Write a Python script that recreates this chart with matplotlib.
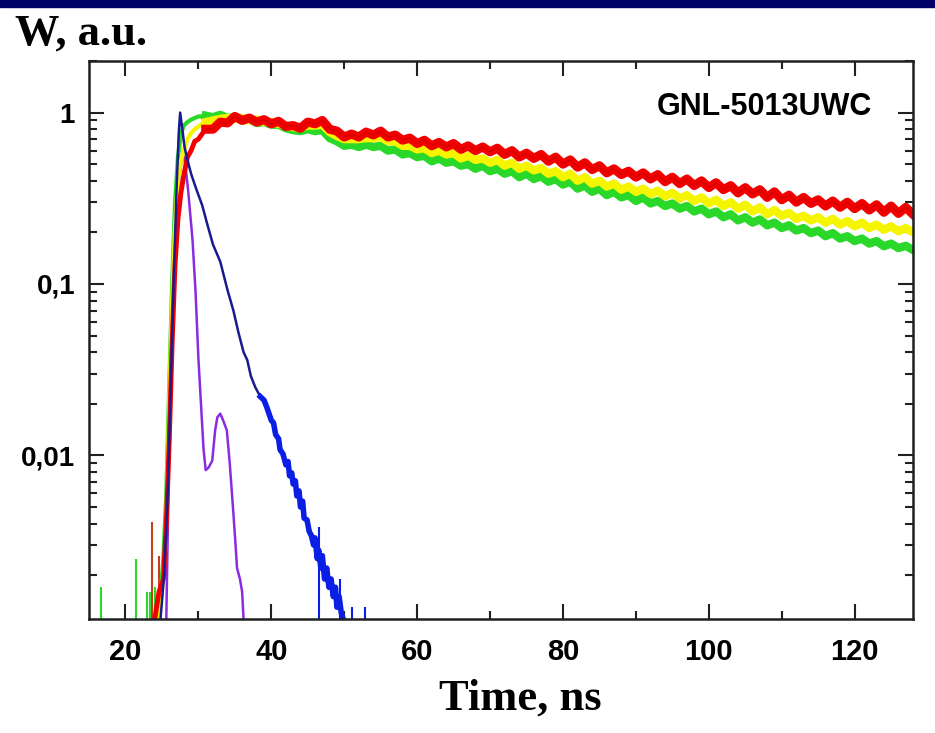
import matplotlib
matplotlib.use('Agg')
import matplotlib.pyplot as plt
from matplotlib.patches import Rectangle
from matplotlib.ticker import FixedLocator, NullFormatter, LogLocator

plt.rcParams['font.family'] = ['Liberation Sans', 'DejaVu Sans']
plt.rcParams['font.weight'] = 'bold'

# --- data ---
red_rise_t = [24.0, 24.6, 25.2, 25.6, 26.0, 26.4, 26.8, 27.2, 27.6, 28.0, 28.5, 29.0, 29.5, 30.0, 30.5]
red_rise_v = [0.0011, 0.0016, 0.0019, 0.004, 0.012, 0.045, 0.13, 0.24, 0.34, 0.43, 0.55, 0.6, 0.68, 0.7, 0.75]
yellow_rise_t = [24.5, 25.0, 25.5, 26.0, 26.4, 26.8, 27.2, 27.6, 28.0, 28.5, 29.0, 29.5, 30.0, 30.5]
yellow_rise_v = [0.0011, 0.0016, 0.003, 0.02, 0.08, 0.22, 0.4, 0.52, 0.6, 0.7, 0.76, 0.8, 0.83, 0.86]
green_rise_t = [24.4, 24.8, 25.2, 25.6, 26.0, 26.4, 26.8, 27.2, 27.6, 28.0, 28.5, 29.0, 29.5, 30.0, 30.5]
green_rise_v = [0.0011, 0.0015, 0.0025, 0.006, 0.025, 0.1, 0.3, 0.55, 0.75, 0.84, 0.88, 0.91, 0.93, 0.95, 0.95]

# tail sampled every 1 ns from 31 to 128 ns
tail_t = list(range(31, 129))
red_tail = [0.80, 0.80, 0.88, 0.87, 0.95, 0.90, 0.93, 0.88, 0.91, 0.86,
            0.89, 0.83, 0.84, 0.81, 0.88, 0.86, 0.90, 0.80, 0.78, 0.72,
            0.75, 0.72, 0.77, 0.74, 0.78, 0.72, 0.74, 0.69, 0.71, 0.66,
            0.69, 0.64, 0.67, 0.63, 0.66, 0.61, 0.64, 0.60, 0.63, 0.59,
            0.62, 0.57, 0.60, 0.55, 0.58, 0.54, 0.57, 0.52, 0.55, 0.50,
            0.53, 0.48, 0.51, 0.465, 0.49, 0.445, 0.47, 0.435, 0.455, 0.42,
            0.445, 0.41, 0.435, 0.395, 0.42, 0.385, 0.41, 0.375, 0.40, 0.365,
            0.39, 0.355, 0.375, 0.34, 0.365, 0.335, 0.355, 0.32, 0.345, 0.31,
            0.33, 0.30, 0.32, 0.295, 0.31, 0.285, 0.305, 0.28, 0.30, 0.275,
            0.295, 0.27, 0.29, 0.262, 0.285, 0.258, 0.28, 0.255]
yellow_tail = [0.88, 0.90, 0.92, 0.93, 0.92, 0.93, 0.90, 0.91, 0.88, 0.88,
               0.86, 0.84, 0.82, 0.82, 0.84, 0.84, 0.85, 0.77, 0.73, 0.70,
               0.70, 0.70, 0.71, 0.71, 0.72, 0.68, 0.68, 0.64, 0.64, 0.61,
               0.62, 0.58, 0.60, 0.57, 0.58, 0.54, 0.56, 0.53, 0.54, 0.51,
               0.53, 0.49, 0.51, 0.47, 0.49, 0.46, 0.475, 0.44, 0.455, 0.42,
               0.44, 0.40, 0.42, 0.385, 0.40, 0.37, 0.385, 0.355, 0.37, 0.345,
               0.36, 0.335, 0.35, 0.325, 0.34, 0.315, 0.33, 0.305, 0.32, 0.295,
               0.31, 0.285, 0.30, 0.275, 0.29, 0.265, 0.28, 0.255, 0.27, 0.25,
               0.26, 0.24, 0.25, 0.235, 0.245, 0.228, 0.24, 0.222, 0.233, 0.217,
               0.228, 0.212, 0.222, 0.207, 0.217, 0.203, 0.212, 0.20]
green_tail = [0.96, 0.94, 0.97, 0.93, 0.94, 0.90, 0.91, 0.87, 0.88, 0.85,
              0.85, 0.81, 0.79, 0.78, 0.80, 0.78, 0.79, 0.71, 0.68, 0.64,
              0.65, 0.63, 0.65, 0.63, 0.64, 0.60, 0.61, 0.57, 0.58, 0.55,
              0.56, 0.52, 0.54, 0.51, 0.52, 0.49, 0.50, 0.47, 0.49, 0.455,
              0.47, 0.44, 0.455, 0.42, 0.44, 0.41, 0.425, 0.395, 0.41, 0.38,
              0.395, 0.36, 0.375, 0.345, 0.36, 0.33, 0.345, 0.32, 0.33, 0.305,
              0.32, 0.295, 0.305, 0.285, 0.295, 0.275, 0.285, 0.265, 0.275, 0.255,
              0.265, 0.245, 0.255, 0.235, 0.245, 0.228, 0.238, 0.22, 0.228, 0.212,
              0.22, 0.205, 0.212, 0.198, 0.205, 0.19, 0.198, 0.184, 0.19, 0.178,
              0.184, 0.172, 0.178, 0.166, 0.172, 0.162, 0.167, 0.158]

blue_t = [24.8, 25.3, 25.8, 26.2, 26.6, 27.0, 27.3, 27.5, 27.8, 28.1, 28.5, 29.0, 29.5,
          29.9, 30.5, 31.2, 32.0, 33.0, 34.0, 34.8, 35.5, 36.2, 36.7, 37.2, 37.8, 38.5,
          39.0, 39.4, 40.0, 40.3, 40.6, 41.0, 41.2, 41.6, 42.0, 42.3, 42.5, 42.8, 43.0,
          43.3, 43.5, 43.8, 44.0, 44.3, 44.5, 44.9, 45.2, 45.5, 45.8, 46.0, 46.3, 46.5,
          46.8, 47.0, 47.3, 47.6, 47.9, 48.2, 48.5, 48.8, 49.0, 49.3, 49.6, 49.8, 50.1]
blue_v = [0.0011, 0.002, 0.006, 0.025, 0.1, 0.35, 0.75, 1.0, 0.8, 0.63, 0.53, 0.44, 0.38,
          0.34, 0.29, 0.225, 0.17, 0.135, 0.092, 0.07, 0.052, 0.04, 0.036, 0.029, 0.025, 0.022,
          0.021, 0.019, 0.016, 0.0155, 0.0132, 0.0125, 0.0108, 0.0102, 0.0088, 0.0092, 0.0076,
          0.0079, 0.0068, 0.0071, 0.0058, 0.0062, 0.0050, 0.0054, 0.0043, 0.0042, 0.0036,
          0.0034, 0.0030, 0.0033, 0.0025, 0.0028, 0.0022, 0.0026, 0.0019, 0.0022, 0.0017,
          0.0019, 0.0015, 0.0017, 0.0013, 0.0015, 0.0012, 0.00113, 0.001]

purple_t = [25.6, 26.0, 26.4, 26.9, 27.4, 27.9, 28.2, 28.6, 29.2, 29.6, 30.0, 30.3, 30.7,
            31.0, 31.4, 31.9, 32.3, 32.6, 33.0, 33.4, 33.9, 34.3, 34.8, 35.1, 35.3, 35.7,
            36.0, 36.2, 36.3]
purple_v = [0.0011, 0.012, 0.045, 0.15, 0.42, 0.6, 0.5, 0.35, 0.18, 0.092, 0.037, 0.022,
            0.011, 0.0082, 0.0085, 0.0093, 0.014, 0.0167, 0.0175, 0.016, 0.014, 0.009, 0.0046,
            0.003, 0.0022, 0.0019, 0.0016, 0.0011, 0.0009]

# noise spikes rising from below the axis
green_spike_t = [16.6, 21.4, 23.0, 23.4, 24.0]
green_spike_v = [0.0017, 0.0025, 0.0016, 0.0016, 0.0017]
red_spike_t = [23.6, 24.6]
red_spike_v = [0.0041, 0.0026]
blue_spike_t = [46.6, 49.4, 51.0, 52.8]
blue_spike_v = [0.0038, 0.0019, 0.0013, 0.0013]

RED = '#f20000'
YELLOW = '#f5f500'
GREEN = '#2ad82a'
NAVY = '#1a1a90'
BLUE = '#0a1ee6'
PURPLE = '#8a2be2'

fig = plt.figure(figsize=(9.35, 7.33), dpi=100)
fig.patches.append(Rectangle((0, 1 - 7 / 733), 1, 7 / 733, transform=fig.transFigure,
                             color='#000066', zorder=0))
ax = fig.add_axes([89 / 935, 114 / 733, 824 / 935, 558 / 733])

ax.vlines(green_spike_t, 1e-4, green_spike_v, color=GREEN, lw=1.5)
ax.vlines(red_spike_t, 1e-4, red_spike_v, color='#c04020', lw=1.5)

ax.plot(purple_t, purple_v, color=PURPLE, lw=1.8)

# the fast rise is drawn thin, the noisy decay as a broad band
ax.plot(green_rise_t + tail_t[:1], green_rise_v + green_tail[:1], color=GREEN, lw=3)
ax.plot(yellow_rise_t + tail_t[:1], yellow_rise_v + yellow_tail[:1], color=YELLOW, lw=3)
ax.plot(red_rise_t + tail_t[:1], red_rise_v + red_tail[:1], color=RED, lw=3.5)
ax.plot(tail_t, green_tail, color=GREEN, lw=6)
ax.plot(tail_t, yellow_tail, color=YELLOW, lw=6)
ax.plot(tail_t, red_tail, color=RED, lw=6.5)
ax.plot(tail_t, red_tail, color='#b80000', lw=0.8, alpha=0.5)

ax.plot(blue_t, blue_v, color=NAVY, lw=1.8)
ax.plot(blue_t[25:], blue_v[25:], color=BLUE, lw=4)
ax.vlines(blue_spike_t, 1e-4, blue_spike_v, color=BLUE, lw=1.5)

ax.set_yscale('log')
ax.set_xlim(15, 128)
ax.set_ylim(0.00111, 2.0)

ax.yaxis.set_major_locator(FixedLocator([0.01, 0.1, 1]))
ax.set_yticklabels(['0,01', '0,1', '1'])
ax.yaxis.set_minor_locator(LogLocator(base=10, subs=range(2, 10)))
ax.yaxis.set_minor_formatter(NullFormatter())
ax.set_xticks([20, 40, 60, 80, 100, 120])
ax.set_xticks([30, 50, 70, 90, 110], minor=True)

ax.tick_params(which='both', direction='in', top=True, right=True, width=1.5, color='#202020')
ax.tick_params(which='major', length=11)
ax.tick_params(which='minor', length=6)
ax.tick_params(axis='y', labelsize=20, pad=10)
ax.tick_params(axis='x', labelsize=21, pad=14)
for s in ax.spines.values():
    s.set_linewidth(1.8)
    s.set_color('#202020')

ax.text(0.82, 0.903, 'GNL-5013UWC', transform=ax.transAxes, ha='center', va='baseline',
        fontsize=22, fontweight='bold')

fig.text(15 / 935, 1 - 45 / 733, 'W, a.u.', family=['Liberation Serif', 'DejaVu Serif'],
         fontweight='bold', fontsize=32, va='baseline', ha='left')
fig.text(520 / 935, 1 - 710 / 733, 'Time, ns', family=['Liberation Serif', 'DejaVu Serif'],
         fontweight='bold', fontsize=32, va='baseline', ha='center')

fig.savefig('out.png', dpi=100)
